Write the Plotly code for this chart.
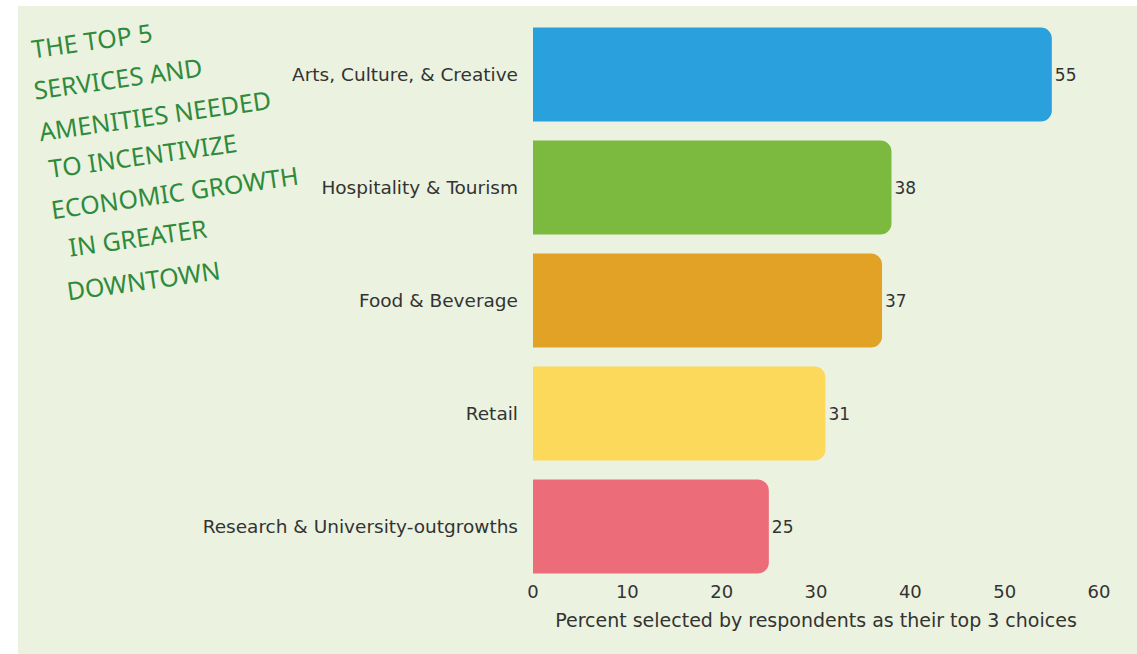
import plotly.graph_objects as go

# Survey results: share of respondents choosing each service in their top 3
categories = [
    "Arts, Culture, & Creative",
    "Hospitality & Tourism",
    "Food & Beverage",
    "Retail",
    "Research & University-outgrowths",
]
values = [55, 38, 37, 31, 25]
bar_colors = ["#2aa1dc", "#7cb93f", "#e2a226", "#fcd95a", "#ed6c79"]
x_ticks = [0, 10, 20, 30, 40, 50, 60]
title_lines = [
    "THE TOP 5",
    "SERVICES AND",
    "AMENITIES NEEDED",
    "TO INCENTIVIZE",
    "ECONOMIC GROWTH",
    "IN GREATER",
    "DOWNTOWN",
]

W, H = 1137, 654
ML, MR, MT, MB = 533, 38, 18, 71
PW, PH = W - ML - MR, H - MT - MB


def px_to_paper(px, py):
    return (px - ML) / PW, (H - MB - py) / PH


BG = "#ebf2df"
TEXT = "#333333"
FONT = "DejaVu Sans"

fig = go.Figure(
    go.Bar(
        y=categories,
        x=values,
        orientation="h",
        marker=dict(color=bar_colors, line=dict(width=0)),
        width=0.83,
        text=[str(v) for v in values],
        textposition="outside",
        textfont=dict(family=FONT, size=17, color=TEXT),
        cliponaxis=False,
        hoverinfo="skip",
    )
)

# light green panel inset from the white page edge
x0, y0 = px_to_paper(18, 654)
x1, y1 = px_to_paper(1137, 6)
fig.add_shape(
    type="rect", xref="paper", yref="paper",
    x0=x0, x1=x1, y0=y0, y1=y1,
    fillcolor=BG, line=dict(width=0), layer="below",
)

# hand-lettered style heading, one slanted line at a time
line_centres = [
    (92, 40), (118, 78), (155, 115), (143, 155),
    (174, 192), (138, 237), (143, 280),
]
for txt, (cx, cy) in zip(title_lines, line_centres):
    ax, ay = px_to_paper(cx, cy)
    fig.add_annotation(
        x=ax, y=ay, xref="paper", yref="paper",
        text=txt, showarrow=False, textangle=-8,
        font=dict(family="Noto Sans", size=25, color="#2f8a3b"),
        xanchor="center", yanchor="middle",
    )

fig.update_layout(
    width=W, height=H,
    margin=dict(l=ML, r=MR, t=MT, b=MB, pad=0),
    paper_bgcolor="white",
    plot_bgcolor="rgba(0,0,0,0)",
    barcornerradius=11,
    showlegend=False,
    font=dict(family=FONT, color=TEXT),
    xaxis=dict(
        range=[0, 60],
        tickvals=x_ticks,
        ticktext=[str(t) for t in x_ticks],
        showgrid=False, zeroline=False, showline=False,
        ticks="", ticklabelstandoff=-4,
        tickfont=dict(family=FONT, size=18, color=TEXT),
        title=dict(
            text="Percent selected by respondents as their top 3 choices",
            font=dict(family=FONT, size=19, color=TEXT),
            standoff=12,
        ),
        fixedrange=True,
    ),
    yaxis=dict(
        categoryorder="array",
        categoryarray=categories[::-1],
        range=[-0.5, 4.5],
        showgrid=False, zeroline=False, showline=False,
        ticks="", ticklabelstandoff=14,
        tickfont=dict(family=FONT, size=18.5, color=TEXT),
        fixedrange=True,
    ),
)

fig.write_html("out.html", config={"displayModeBar": False})
